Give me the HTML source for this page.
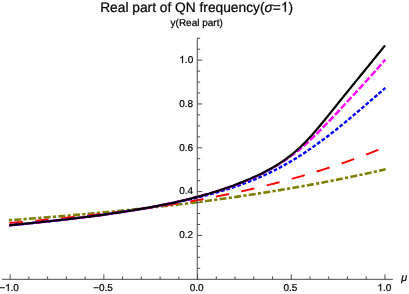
<!DOCTYPE html>
<html><head><meta charset="utf-8"><style>
html,body{margin:0;padding:0;background:#fff;}
svg{display:block}
text{text-rendering:geometricPrecision;font-family:"Liberation Sans",sans-serif;fill:#000;stroke:#000;stroke-width:0.22px}
</style></head><body>
<svg width="409" height="294" viewBox="0 0 409 294">
<rect width="409" height="294" fill="#fff"/>
<g fill="none" stroke-linecap="square" stroke-linejoin="round">
<path d="M10.40,220.17 L12.28,220.03 L14.16,219.89 L16.04,219.74 L17.92,219.60 L19.80,219.46 L21.68,219.32 L23.56,219.17 L25.44,219.03 L27.31,218.89 L29.19,218.74 L31.07,218.59 L32.95,218.45 L34.83,218.30 L36.71,218.15 L38.59,218.01 L40.47,217.86 L42.35,217.71 L44.23,217.56 L46.11,217.41 L47.99,217.25 L49.87,217.10 L51.75,216.95 L53.63,216.79 L55.51,216.64 L57.38,216.48 L59.26,216.33 L61.14,216.17 L63.02,216.01 L64.90,215.85 L66.78,215.70 L68.66,215.53 L70.54,215.37 L72.42,215.21 L74.30,215.05 L76.18,214.89 L78.06,214.72 L79.94,214.56 L81.82,214.39 L83.70,214.22 L85.58,214.06 L87.46,213.89 L89.33,213.72 L91.21,213.55 L93.09,213.38 L94.97,213.20 L96.85,213.03 L98.73,212.86 L100.61,212.68 L102.49,212.50 L104.37,212.33 L106.25,212.15 L108.13,211.97 L110.01,211.79 L111.89,211.61 L113.77,211.42 L115.65,211.24 L117.53,211.06 L119.41,210.87 L121.28,210.68 L123.16,210.50 L125.04,210.31 L126.92,210.12 L128.80,209.93 L130.68,209.74 L132.56,209.54 L134.44,209.35 L136.32,209.15 L138.20,208.96 L140.08,208.76 L141.96,208.56 L143.84,208.36 L145.72,208.16 L147.60,207.95 L149.48,207.75 L151.35,207.55 L153.23,207.34 L155.11,207.13 L156.99,206.92 L158.87,206.71 L160.75,206.50 L162.63,206.29 L164.51,206.08 L166.39,205.86 L168.27,205.64 L170.15,205.43 L172.03,205.21 L173.91,204.99 L175.79,204.76 L177.67,204.54 L179.55,204.32 L181.43,204.09 L183.30,203.86 L185.18,203.64 L187.06,203.41 L188.94,203.17 L190.82,202.94 L192.70,202.71 L194.58,202.47 L196.46,202.23 L198.34,201.99 L200.22,201.75 L202.10,201.51 L203.98,201.27 L205.86,201.02 L207.74,200.78 L209.62,200.53 L211.50,200.28 L213.37,200.03 L215.25,199.78 L217.13,199.52 L219.01,199.27 L220.89,199.01 L222.77,198.75 L224.65,198.49 L226.53,198.23 L228.41,197.97 L230.29,197.70 L232.17,197.44 L234.05,197.17 L235.93,196.90 L237.81,196.63 L239.69,196.35 L241.57,196.08 L243.45,195.80 L245.32,195.52 L247.20,195.24 L249.08,194.96 L250.96,194.68 L252.84,194.39 L254.72,194.11 L256.60,193.82 L258.48,193.53 L260.36,193.24 L262.24,192.94 L264.12,192.65 L266.00,192.35 L267.88,192.05 L269.76,191.75 L271.64,191.44 L273.52,191.14 L275.39,190.83 L277.27,190.52 L279.15,190.21 L281.03,189.90 L282.91,189.59 L284.79,189.27 L286.67,188.95 L288.55,188.63 L290.43,188.31 L292.31,187.99 L294.19,187.66 L296.07,187.33 L297.95,187.01 L299.83,186.67 L301.71,186.34 L303.59,186.00 L305.47,185.67 L307.34,185.33 L309.22,184.99 L311.10,184.64 L312.98,184.30 L314.86,183.95 L316.74,183.60 L318.62,183.25 L320.50,182.89 L322.38,182.54 L324.26,182.18 L326.14,181.82 L328.02,181.46 L329.90,181.09 L331.78,180.73 L333.66,180.36 L335.54,179.99 L337.42,179.61 L339.29,179.24 L341.17,178.86 L343.05,178.48 L344.93,178.10 L346.81,177.72 L348.69,177.33 L350.57,176.94 L352.45,176.55 L354.33,176.16 L356.21,175.76 L358.09,175.36 L359.97,174.96 L361.85,174.56 L363.73,174.16 L365.61,173.75 L367.49,173.34 L369.36,172.93 L371.24,172.52 L373.12,172.10 L375.00,171.68 L376.88,171.26 L378.76,170.84 L380.64,170.42 L382.52,169.99 L384.40,169.56" stroke="#808000" stroke-width="2.6" stroke-dasharray="0.6 4.87 4.4 4.87" stroke-dashoffset="0.3"/>
<path d="M10.40,222.93 L12.28,222.77 L14.16,222.61 L16.04,222.44 L17.92,222.28 L19.80,222.11 L21.68,221.94 L23.56,221.78 L25.44,221.61 L27.31,221.44 L29.19,221.27 L31.07,221.10 L32.95,220.93 L34.83,220.76 L36.71,220.59 L38.59,220.41 L40.47,220.24 L42.35,220.07 L44.23,219.89 L46.11,219.71 L47.99,219.54 L49.87,219.36 L51.75,219.18 L53.63,219.00 L55.51,218.82 L57.38,218.63 L59.26,218.45 L61.14,218.26 L63.02,218.08 L64.90,217.89 L66.78,217.70 L68.66,217.51 L70.54,217.32 L72.42,217.13 L74.30,216.94 L76.18,216.74 L78.06,216.54 L79.94,216.35 L81.82,216.15 L83.70,215.95 L85.58,215.74 L87.46,215.54 L89.33,215.34 L91.21,215.13 L93.09,214.92 L94.97,214.71 L96.85,214.50 L98.73,214.29 L100.61,214.07 L102.49,213.86 L104.37,213.64 L106.25,213.42 L108.13,213.20 L110.01,212.97 L111.89,212.75 L113.77,212.52 L115.65,212.29 L117.53,212.06 L119.41,211.83 L121.28,211.59 L123.16,211.36 L125.04,211.12 L126.92,210.88 L128.80,210.63 L130.68,210.39 L132.56,210.14 L134.44,209.89 L136.32,209.64 L138.20,209.39 L140.08,209.13 L141.96,208.87 L143.84,208.61 L145.72,208.35 L147.60,208.09 L149.48,207.82 L151.35,207.55 L153.23,207.28 L155.11,207.00 L156.99,206.73 L158.87,206.45 L160.75,206.16 L162.63,205.88 L164.51,205.59 L166.39,205.30 L168.27,205.01 L170.15,204.72 L172.03,204.42 L173.91,204.12 L175.79,203.82 L177.67,203.51 L179.55,203.20 L181.43,202.89 L183.30,202.58 L185.18,202.26 L187.06,201.94 L188.94,201.62 L190.82,201.30 L192.70,200.97 L194.58,200.64 L196.46,200.30 L198.34,199.97 L200.22,199.63 L202.10,199.28 L203.98,198.94 L205.86,198.59 L207.74,198.23 L209.62,197.88 L211.50,197.52 L213.37,197.16 L215.25,196.79 L217.13,196.42 L219.01,196.05 L220.89,195.68 L222.77,195.30 L224.65,194.92 L226.53,194.53 L228.41,194.14 L230.29,193.75 L232.17,193.36 L234.05,192.96 L235.93,192.55 L237.81,192.15 L239.69,191.74 L241.57,191.32 L243.45,190.91 L245.32,190.49 L247.20,190.06 L249.08,189.64 L250.96,189.20 L252.84,188.77 L254.72,188.33 L256.60,187.89 L258.48,187.44 L260.36,186.99 L262.24,186.53 L264.12,186.08 L266.00,185.61 L267.88,185.15 L269.76,184.68 L271.64,184.20 L273.52,183.72 L275.39,183.24 L277.27,182.76 L279.15,182.26 L281.03,181.77 L282.91,181.27 L284.79,180.77 L286.67,180.26 L288.55,179.75 L290.43,179.23 L292.31,178.71 L294.19,178.19 L296.07,177.66 L297.95,177.13 L299.83,176.59 L301.71,176.05 L303.59,175.50 L305.47,174.95 L307.34,174.40 L309.22,173.84 L311.10,173.27 L312.98,172.70 L314.86,172.13 L316.74,171.55 L318.62,170.97 L320.50,170.38 L322.38,169.79 L324.26,169.19 L326.14,168.59 L328.02,167.98 L329.90,167.37 L331.78,166.76 L333.66,166.14 L335.54,165.51 L337.42,164.88 L339.29,164.24 L341.17,163.60 L343.05,162.96 L344.93,162.31 L346.81,161.65 L348.69,160.99 L350.57,160.33 L352.45,159.66 L354.33,158.98 L356.21,158.30 L358.09,157.61 L359.97,156.92 L361.85,156.22 L363.73,155.52 L365.61,154.81 L367.49,154.10 L369.36,153.38 L371.24,152.66 L373.12,151.93 L375.00,151.20 L376.88,150.46 L378.76,149.71 L380.64,148.96 L382.52,148.21 L384.40,147.45" stroke="#ff0000" stroke-width="1.9" stroke-dasharray="11.5 14.52"/>
<path d="M10.40,225.13 L12.28,224.96 L14.16,224.79 L16.04,224.61 L17.92,224.44 L19.80,224.26 L21.68,224.08 L23.56,223.90 L25.44,223.72 L27.31,223.54 L29.19,223.35 L31.07,223.17 L32.95,222.98 L34.83,222.79 L36.71,222.60 L38.59,222.40 L40.47,222.21 L42.35,222.01 L44.23,221.81 L46.11,221.61 L47.99,221.41 L49.87,221.20 L51.75,221.00 L53.63,220.79 L55.51,220.58 L57.38,220.37 L59.26,220.16 L61.14,219.94 L63.02,219.72 L64.90,219.50 L66.78,219.28 L68.66,219.06 L70.54,218.84 L72.42,218.61 L74.30,218.38 L76.18,218.15 L78.06,217.92 L79.94,217.68 L81.82,217.45 L83.70,217.21 L85.58,216.97 L87.46,216.72 L89.33,216.48 L91.21,216.23 L93.09,215.98 L94.97,215.73 L96.85,215.48 L98.73,215.22 L100.61,214.96 L102.49,214.70 L104.37,214.44 L106.25,214.18 L108.13,213.91 L110.01,213.64 L111.89,213.37 L113.77,213.10 L115.65,212.82 L117.53,212.55 L119.41,212.27 L121.28,211.98 L123.16,211.70 L125.04,211.41 L126.92,211.12 L128.80,210.83 L130.68,210.54 L132.56,210.24 L134.44,209.94 L136.32,209.64 L138.20,209.33 L140.08,209.03 L141.96,208.71 L143.84,208.40 L145.72,208.08 L147.60,207.76 L149.48,207.43 L151.35,207.10 L153.23,206.77 L155.11,206.43 L156.99,206.09 L158.87,205.74 L160.75,205.39 L162.63,205.04 L164.51,204.68 L166.39,204.32 L168.27,203.95 L170.15,203.57 L172.03,203.20 L173.91,202.81 L175.79,202.42 L177.67,202.03 L179.55,201.63 L181.43,201.22 L183.30,200.81 L185.18,200.40 L187.06,199.97 L188.94,199.54 L190.82,199.11 L192.70,198.67 L194.58,198.22 L196.46,197.77 L198.34,197.31 L200.22,196.84 L202.10,196.37 L203.98,195.88 L205.86,195.40 L207.74,194.90 L209.62,194.40 L211.50,193.89 L213.37,193.37 L215.25,192.84 L217.13,192.31 L219.01,191.76 L220.89,191.21 L222.77,190.65 L224.65,190.08 L226.53,189.49 L228.41,188.90 L230.29,188.30 L232.17,187.68 L234.05,187.06 L235.93,186.42 L237.81,185.77 L239.69,185.11 L241.57,184.44 L243.45,183.75 L245.32,183.05 L247.20,182.34 L249.08,181.62 L250.96,180.88 L252.84,180.12 L254.72,179.35 L256.60,178.57 L258.48,177.77 L260.36,176.96 L262.24,176.13 L264.12,175.29 L266.00,174.43 L267.88,173.55 L269.76,172.66 L271.64,171.75 L273.52,170.82 L275.39,169.87 L277.27,168.91 L279.15,167.93 L281.03,166.93 L282.91,165.91 L284.79,164.87 L286.67,163.81 L288.55,162.74 L290.43,161.64 L292.31,160.52 L294.19,159.39 L296.07,158.23 L297.95,157.06 L299.83,155.86 L301.71,154.65 L303.59,153.42 L305.47,152.17 L307.34,150.91 L309.22,149.62 L311.10,148.33 L312.98,147.01 L314.86,145.68 L316.74,144.33 L318.62,142.97 L320.50,141.59 L322.38,140.20 L324.26,138.79 L326.14,137.37 L328.02,135.94 L329.90,134.49 L331.78,133.03 L333.66,131.56 L335.54,130.07 L337.42,128.57 L339.29,127.06 L341.17,125.54 L343.05,124.01 L344.93,122.47 L346.81,120.92 L348.69,119.36 L350.57,117.79 L352.45,116.22 L354.33,114.64 L356.21,113.05 L358.09,111.45 L359.97,109.85 L361.85,108.24 L363.73,106.63 L365.61,105.01 L367.49,103.39 L369.36,101.77 L371.24,100.15 L373.12,98.52 L375.00,96.89 L376.88,95.26 L378.76,93.63 L380.64,92.00 L382.52,90.37 L384.40,88.74" stroke="#0000ff" stroke-width="2.4" stroke-dasharray="1.4 4.27" stroke-dashoffset="0.7"/>
<path d="M10.40,225.35 L12.28,225.14 L14.16,224.94 L16.04,224.74 L17.92,224.54 L19.80,224.34 L21.68,224.13 L23.56,223.93 L25.44,223.73 L27.31,223.54 L29.19,223.34 L31.07,223.14 L32.95,222.94 L34.83,222.74 L36.71,222.54 L38.59,222.34 L40.47,222.14 L42.35,221.94 L44.23,221.74 L46.11,221.54 L47.99,221.34 L49.87,221.14 L51.75,220.94 L53.63,220.74 L55.51,220.53 L57.38,220.33 L59.26,220.12 L61.14,219.92 L63.02,219.71 L64.90,219.50 L66.78,219.29 L68.66,219.08 L70.54,218.87 L72.42,218.65 L74.30,218.43 L76.18,218.22 L78.06,218.00 L79.94,217.77 L81.82,217.55 L83.70,217.33 L85.58,217.10 L87.46,216.87 L89.33,216.64 L91.21,216.40 L93.09,216.16 L94.97,215.92 L96.85,215.68 L98.73,215.44 L100.61,215.19 L102.49,214.94 L104.37,214.69 L106.25,214.43 L108.13,214.17 L110.01,213.91 L111.89,213.64 L113.77,213.37 L115.65,213.10 L117.53,212.82 L119.41,212.54 L121.28,212.26 L123.16,211.98 L125.04,211.68 L126.92,211.39 L128.80,211.09 L130.68,210.79 L132.56,210.48 L134.44,210.17 L136.32,209.86 L138.20,209.54 L140.08,209.21 L141.96,208.89 L143.84,208.55 L145.72,208.22 L147.60,207.87 L149.48,207.53 L151.35,207.18 L153.23,206.82 L155.11,206.46 L156.99,206.09 L158.87,205.72 L160.75,205.34 L162.63,204.96 L164.51,204.57 L166.39,204.18 L168.27,203.78 L170.15,203.37 L172.03,202.96 L173.91,202.54 L175.79,202.12 L177.67,201.69 L179.55,201.26 L181.43,200.82 L183.30,200.37 L185.18,199.91 L187.06,199.45 L188.94,198.99 L190.82,198.52 L192.70,198.04 L194.58,197.55 L196.46,197.06 L198.34,196.56 L200.22,196.05 L202.10,195.54 L203.98,195.01 L205.86,194.49 L207.74,193.95 L209.62,193.41 L211.50,192.86 L213.37,192.30 L215.25,191.73 L217.13,191.16 L219.01,190.58 L220.89,189.99 L222.77,189.39 L224.65,188.78 L226.53,188.15 L228.41,187.52 L230.29,186.88 L232.17,186.22 L234.05,185.55 L235.93,184.86 L237.81,184.16 L239.69,183.45 L241.57,182.72 L243.45,181.98 L245.32,181.22 L247.20,180.44 L249.08,179.64 L250.96,178.83 L252.84,177.99 L254.72,177.14 L256.60,176.27 L258.48,175.37 L260.36,174.46 L262.24,173.52 L264.12,172.57 L266.00,171.58 L267.88,170.58 L269.76,169.55 L271.64,168.50 L273.52,167.42 L275.39,166.31 L277.27,165.18 L279.15,164.02 L281.03,162.83 L282.91,161.62 L284.79,160.37 L286.67,159.09 L288.55,157.78 L290.43,156.44 L292.31,155.06 L294.19,153.65 L296.07,152.20 L297.95,150.72 L299.83,149.19 L301.71,147.63 L303.59,146.03 L305.47,144.39 L307.34,142.70 L309.22,140.98 L311.10,139.22 L312.98,137.43 L314.86,135.61 L316.74,133.76 L318.62,131.88 L320.50,129.99 L322.38,128.07 L324.26,126.14 L326.14,124.20 L328.02,122.25 L329.90,120.28 L331.78,118.31 L333.66,116.32 L335.54,114.33 L337.42,112.33 L339.29,110.32 L341.17,108.31 L343.05,106.29 L344.93,104.26 L346.81,102.23 L348.69,100.20 L350.57,98.16 L352.45,96.12 L354.33,94.08 L356.21,92.04 L358.09,90.00 L359.97,87.96 L361.85,85.91 L363.73,83.86 L365.61,81.81 L367.49,79.75 L369.36,77.67 L371.24,75.59 L373.12,73.50 L375.00,71.39 L376.88,69.26 L378.76,67.12 L380.64,64.96 L382.52,62.78 L384.40,60.57" stroke="#ff00ff" stroke-width="2.45" stroke-dasharray="4.25 4.59"/>
<path d="M10.40,225.18 L12.28,225.00 L14.16,224.81 L16.04,224.62 L17.92,224.43 L19.80,224.24 L21.68,224.05 L23.56,223.86 L25.44,223.67 L27.31,223.48 L29.19,223.29 L31.07,223.10 L32.95,222.91 L34.83,222.71 L36.71,222.52 L38.59,222.32 L40.47,222.13 L42.35,221.93 L44.23,221.73 L46.11,221.53 L47.99,221.33 L49.87,221.13 L51.75,220.93 L53.63,220.73 L55.51,220.52 L57.38,220.31 L59.26,220.11 L61.14,219.90 L63.02,219.69 L64.90,219.47 L66.78,219.26 L68.66,219.04 L70.54,218.83 L72.42,218.61 L74.30,218.38 L76.18,218.16 L78.06,217.94 L79.94,217.71 L81.82,217.48 L83.70,217.25 L85.58,217.01 L87.46,216.78 L89.33,216.54 L91.21,216.30 L93.09,216.06 L94.97,215.81 L96.85,215.56 L98.73,215.31 L100.61,215.06 L102.49,214.81 L104.37,214.55 L106.25,214.29 L108.13,214.02 L110.01,213.75 L111.89,213.49 L113.77,213.21 L115.65,212.94 L117.53,212.66 L119.41,212.38 L121.28,212.09 L123.16,211.80 L125.04,211.51 L126.92,211.22 L128.80,210.92 L130.68,210.62 L132.56,210.31 L134.44,210.00 L136.32,209.69 L138.20,209.37 L140.08,209.05 L141.96,208.73 L143.84,208.40 L145.72,208.07 L147.60,207.74 L149.48,207.40 L151.35,207.05 L153.23,206.71 L155.11,206.35 L156.99,206.00 L158.87,205.64 L160.75,205.27 L162.63,204.90 L164.51,204.52 L166.39,204.14 L168.27,203.75 L170.15,203.36 L172.03,202.96 L173.91,202.56 L175.79,202.14 L177.67,201.73 L179.55,201.30 L181.43,200.87 L183.30,200.43 L185.18,199.98 L187.06,199.53 L188.94,199.07 L190.82,198.60 L192.70,198.12 L194.58,197.64 L196.46,197.15 L198.34,196.64 L200.22,196.13 L202.10,195.62 L203.98,195.09 L205.86,194.55 L207.74,194.00 L209.62,193.45 L211.50,192.88 L213.37,192.31 L215.25,191.72 L217.13,191.12 L219.01,190.52 L220.89,189.90 L222.77,189.27 L224.65,188.63 L226.53,187.98 L228.41,187.32 L230.29,186.65 L232.17,185.96 L234.05,185.26 L235.93,184.56 L237.81,183.83 L239.69,183.10 L241.57,182.36 L243.45,181.60 L245.32,180.82 L247.20,180.04 L249.08,179.24 L250.96,178.43 L252.84,177.60 L254.72,176.76 L256.60,175.90 L258.48,175.02 L260.36,174.12 L262.24,173.20 L264.12,172.25 L266.00,171.28 L267.88,170.28 L269.76,169.25 L271.64,168.19 L273.52,167.10 L275.39,165.97 L277.27,164.81 L279.15,163.61 L281.03,162.37 L282.91,161.10 L284.79,159.78 L286.67,158.41 L288.55,157.00 L290.43,155.55 L292.31,154.04 L294.19,152.49 L296.07,150.88 L297.95,149.22 L299.83,147.50 L301.71,145.72 L303.59,143.89 L305.47,142.00 L307.34,140.05 L309.22,138.05 L311.10,135.99 L312.98,133.89 L314.86,131.74 L316.74,129.55 L318.62,127.33 L320.50,125.07 L322.38,122.79 L324.26,120.49 L326.14,118.18 L328.02,115.85 L329.90,113.52 L331.78,111.18 L333.66,108.83 L335.54,106.49 L337.42,104.15 L339.29,101.80 L341.17,99.47 L343.05,97.14 L344.93,94.81 L346.81,92.49 L348.69,90.17 L350.57,87.86 L352.45,85.55 L354.33,83.24 L356.21,80.93 L358.09,78.62 L359.97,76.32 L361.85,74.01 L363.73,71.71 L365.61,69.40 L367.49,67.09 L369.36,64.78 L371.24,62.47 L373.12,60.16 L375.00,57.84 L376.88,55.52 L378.76,53.20 L380.64,50.87 L382.52,48.54 L384.40,46.20" stroke="#000" stroke-width="2.2"/>
</g>
<g stroke="#404040" stroke-width="0.95" fill="none">
<line x1="2" y1="279.3" x2="392.9" y2="279.3"/>
<line x1="197.25" y1="279.3" x2="197.25" y2="38"/>
<line x1="10.15" y1="274.40" x2="10.15" y2="279.3"/><line x1="28.89" y1="276.40" x2="28.89" y2="279.3"/><line x1="47.63" y1="276.40" x2="47.63" y2="279.3"/><line x1="66.37" y1="276.40" x2="66.37" y2="279.3"/><line x1="85.11" y1="276.40" x2="85.11" y2="279.3"/><line x1="103.85" y1="274.40" x2="103.85" y2="279.3"/><line x1="122.59" y1="276.40" x2="122.59" y2="279.3"/><line x1="141.33" y1="276.40" x2="141.33" y2="279.3"/><line x1="160.07" y1="276.40" x2="160.07" y2="279.3"/><line x1="178.81" y1="276.40" x2="178.81" y2="279.3"/><line x1="197.55" y1="274.40" x2="197.55" y2="279.3"/><line x1="216.29" y1="276.40" x2="216.29" y2="279.3"/><line x1="235.03" y1="276.40" x2="235.03" y2="279.3"/><line x1="253.77" y1="276.40" x2="253.77" y2="279.3"/><line x1="272.51" y1="276.40" x2="272.51" y2="279.3"/><line x1="291.25" y1="274.40" x2="291.25" y2="279.3"/><line x1="309.99" y1="276.40" x2="309.99" y2="279.3"/><line x1="328.73" y1="276.40" x2="328.73" y2="279.3"/><line x1="347.47" y1="276.40" x2="347.47" y2="279.3"/><line x1="366.21" y1="276.40" x2="366.21" y2="279.3"/><line x1="384.95" y1="274.40" x2="384.95" y2="279.3"/><line x1="197.25" y1="268.30" x2="200.15" y2="268.30"/><line x1="197.25" y1="257.34" x2="200.15" y2="257.34"/><line x1="197.25" y1="246.38" x2="200.15" y2="246.38"/><line x1="197.25" y1="235.43" x2="202.15" y2="235.43"/><line x1="197.25" y1="224.47" x2="200.15" y2="224.47"/><line x1="197.25" y1="213.52" x2="200.15" y2="213.52"/><line x1="197.25" y1="202.56" x2="200.15" y2="202.56"/><line x1="197.25" y1="191.61" x2="202.15" y2="191.61"/><line x1="197.25" y1="180.66" x2="200.15" y2="180.66"/><line x1="197.25" y1="169.70" x2="200.15" y2="169.70"/><line x1="197.25" y1="158.75" x2="200.15" y2="158.75"/><line x1="197.25" y1="147.79" x2="202.15" y2="147.79"/><line x1="197.25" y1="136.84" x2="200.15" y2="136.84"/><line x1="197.25" y1="125.88" x2="200.15" y2="125.88"/><line x1="197.25" y1="114.92" x2="200.15" y2="114.92"/><line x1="197.25" y1="103.97" x2="202.15" y2="103.97"/><line x1="197.25" y1="93.01" x2="200.15" y2="93.01"/><line x1="197.25" y1="82.06" x2="200.15" y2="82.06"/><line x1="197.25" y1="71.11" x2="200.15" y2="71.11"/><line x1="197.25" y1="60.15" x2="202.15" y2="60.15"/><line x1="197.25" y1="49.20" x2="200.15" y2="49.20"/><line x1="197.25" y1="38.24" x2="200.15" y2="38.24"/>
</g>
<g style="will-change:transform"><g font-size="10"><text x="103.0" y="290.95" text-anchor="middle">−0.5</text><text x="196.7" y="290.95" text-anchor="middle">0.0</text><text x="290.4" y="290.95" text-anchor="middle">0.5</text><path d="M763 0H583V1147Q518 1085 412.5 1023T223 930V1104Q373 1174.5 485.5 1275T645 1470H763Z" transform="translate(377.40,290.95) scale(0.004883,-0.004883)" fill="#000" stroke="#000" stroke-width="45.1"/><text x="382.96" y="290.95">.0</text><text x="-0.82" y="290.95">−</text><path d="M763 0H583V1147Q518 1085 412.5 1023T223 930V1104Q373 1174.5 485.5 1275T645 1470H763Z" transform="translate(5.02,290.95) scale(0.004883,-0.004883)" fill="#000" stroke="#000" stroke-width="45.1"/><text x="10.58" y="290.95">.0</text><text x="193.2" y="238.2" text-anchor="end">0.2</text><text x="193.2" y="194.4" text-anchor="end">0.4</text><text x="193.2" y="150.6" text-anchor="end">0.6</text><text x="193.2" y="106.8" text-anchor="end">0.8</text><path d="M763 0H583V1147Q518 1085 412.5 1023T223 930V1104Q373 1174.5 485.5 1275T645 1470H763Z" transform="translate(179.30,62.95) scale(0.004883,-0.004883)" fill="#000" stroke="#000" stroke-width="45.1"/><text x="184.86" y="63.0">.0</text></g>
<text x="100.2" y="11.7" font-size="13.75">Real part of QN frequency(<tspan font-style="italic">σ</tspan>=</text><path d="M763 0H583V1147Q518 1085 412.5 1023T223 930V1104Q373 1174.5 485.5 1275T645 1470H763Z" transform="translate(280.79,11.70) scale(0.006714,-0.006714)" fill="#000" stroke="#000" stroke-width="32.8"/><text x="288.46" y="11.7" font-size="13.75">)</text>
<text x="196.7" y="26.3" font-size="10" text-anchor="middle">y(Real part)</text>
<text x="401.2" y="280.6" font-size="10.8" font-style="italic">μ</text></g>
</svg>
</body></html>
